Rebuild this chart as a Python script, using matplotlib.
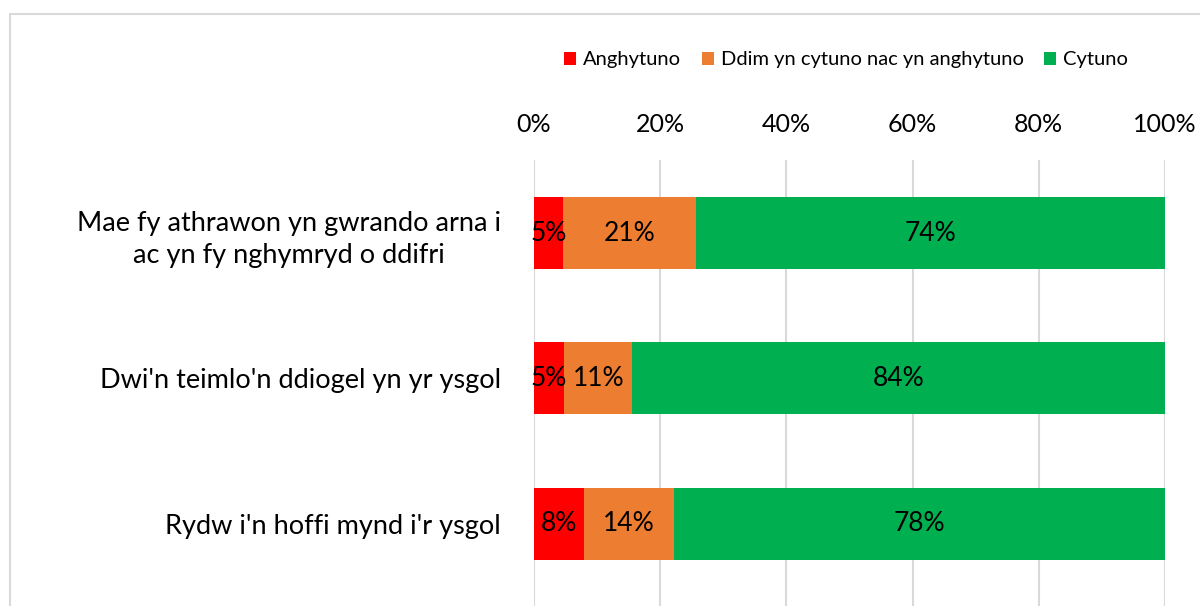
import matplotlib.pyplot as plt
from matplotlib.patches import Rectangle, Patch

plt.rcParams['font.family'] = ['Lato', 'DejaVu Sans']

# Data (percent of pupils)
categories = ["Mae fy athrawon yn gwrando arna i\nac yn fy nghymryd o ddifri",
              "Dwi'n teimlo'n ddiogel yn yr ysgol",
              "Rydw i'n hoffi mynd i'r ysgol"]
series_names = ['Anghytuno', 'Ddim yn cytuno nac yn anghytuno', 'Cytuno']
disagree = [4.6, 4.8, 7.9]
neutral = [21.0, 10.8, 14.3]
agree = [74.4, 84.4, 77.8]
tick_values = [0, 20, 40, 60, 80, 100]

COLORS = ['#FF0000', '#ED7D31', '#00B050']
GRID = '#D9D9D9'

fig = plt.figure(figsize=(12, 6.06), dpi=100)
ax = fig.add_axes([534 / 1200, 0.0, (1165 - 534) / 1200, 1 - 160 / 606])

ypos = list(range(len(categories)))
left = [0.0] * len(categories)
for vals, color, name in zip([disagree, neutral, agree], COLORS, series_names):
    bars = ax.barh(ypos, vals, left=left, height=0.495, color=color, label=name, zorder=2)
    ax.bar_label(bars, labels=[f'{v:.0f}%' for v in vals], label_type='center',
                 fontsize=19, color='black')
    left = [l + v for l, v in zip(left, vals)]

ax.set_xlim(0, 100)
ax.set_ylim(2.564, -0.502)
ax.set_xticks(tick_values)
ax.set_xticklabels([f'{t}%' for t in tick_values], fontsize=18)
ax.xaxis.tick_top()
ax.tick_params(axis='x', length=0, pad=17)
ax.set_yticks(ypos)
ax.set_yticklabels(categories, fontsize=19.5, multialignment='center', linespacing=1.35)
ax.tick_params(axis='y', length=0, pad=24)
ax.grid(axis='x', color=GRID, linewidth=1.5, zorder=0)
for s in ax.spines.values():
    s.set_visible(False)

handles = [Patch(facecolor=c, label=n) for c, n in zip(COLORS, series_names)]
fig.legend(handles=handles, loc='center', bbox_to_anchor=(846 / 1200, 1 - 60 / 606),
           ncol=3, frameon=False, fontsize=14.5, handlelength=0.6, handleheight=0.6,
           handletextpad=0.35, columnspacing=1.0)

# outer chart border (cropped on right and bottom)
fig.patches.append(Rectangle((10 / 1200, -0.2), 1.5, 1 - 14 / 606 + 0.2,
                             transform=fig.transFigure, fill=False,
                             edgecolor=GRID, linewidth=1.5))

fig.savefig('out.png', dpi=100, facecolor='white')
